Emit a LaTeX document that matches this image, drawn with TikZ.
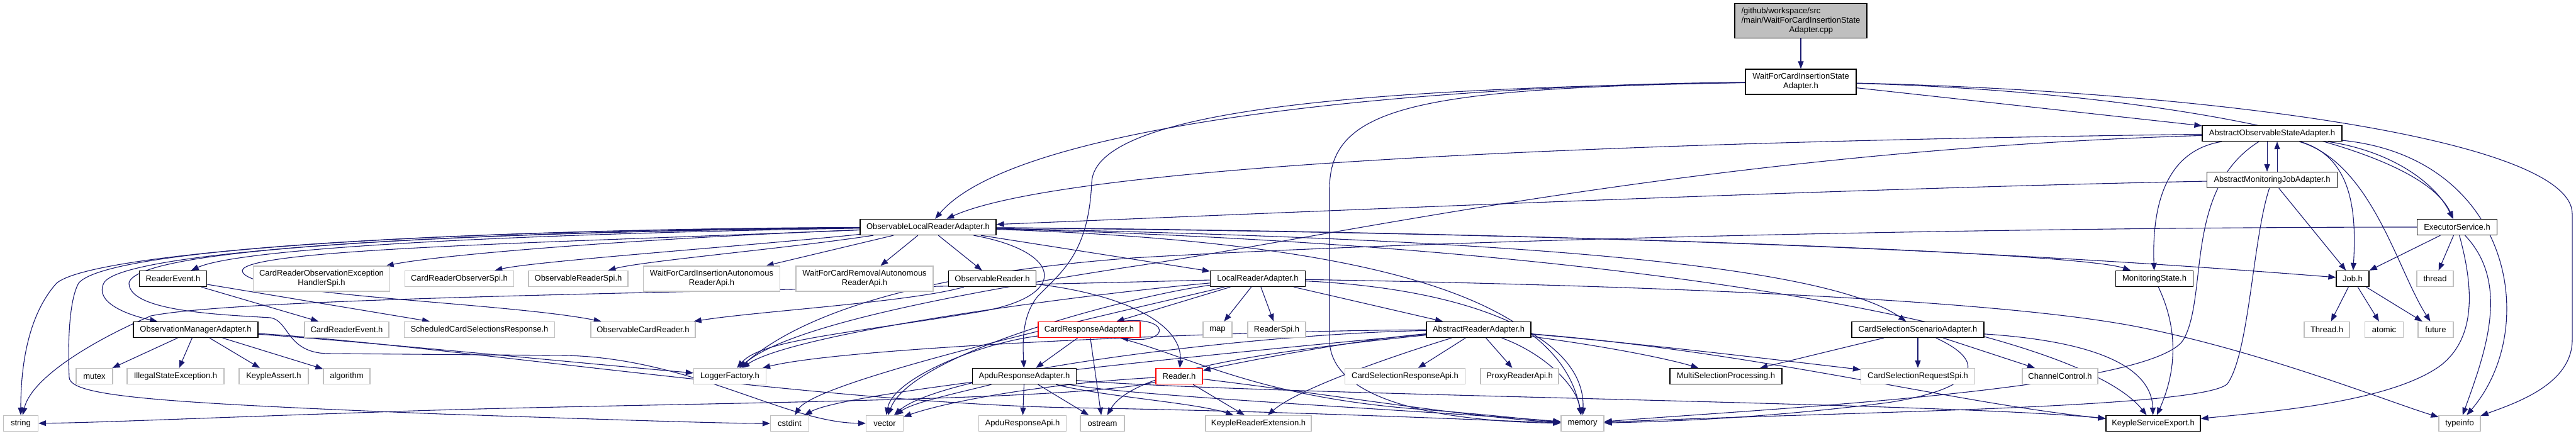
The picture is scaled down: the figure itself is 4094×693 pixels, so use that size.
\documentclass[tikz,border=0pt]{standalone}
\usepackage{fontspec}
\setmainfont{Liberation Sans}
\usetikzlibrary{arrows.meta,backgrounds}
\definecolor{Navy}{HTML}{191970}
\definecolor{Frame}{HTML}{BFBFBF}
\definecolor{Cut}{HTML}{FF0000}
\definecolor{Shade}{HTML}{BFBFBF}
\tikzset{
  header/.style={
    draw=black, line width=1.3pt, fill=white, inner xsep=4pt, inner ysep=2pt,
    minimum height=25, align=center, font=\fontsize{13}{15}\selectfont
  },
  syshdr/.style={header, draw=Frame},
  cuthdr/.style={header, draw=Cut},
  tall/.style={minimum height=40},
  srcfile/.style={header, fill=Shade, minimum height=55, align=left},
  dep/.style={-{Triangle[length=12pt,width=9pt]}, draw=Navy, line width=1.1pt}
}

\begin{document}
\begin{tikzpicture}[x=1pt,y=-1pt]
    \useasboundingbox (0,0) rectangle (4094,693);
    \node[srcfile,minimum width=210] (root) at (2862,33) {/github/workspace/src\\/main/WaitForCardInsertionState\\\hphantom{/main/WaitFo}Adapter.cpp};
    \node[header,tall,minimum width=176] (wfci) at (2862,130) {WaitForCardInsertionState\\Adapter.h};
    \node[header,minimum width=222] (aosa) at (3611,212) {AbstractObservableStateAdapter.h};
    \node[header,minimum width=207] (amja) at (3611,286) {AbstractMonitoringJobAdapter.h};
    \node[header,minimum width=216] (olra) at (1475,361) {ObservableLocalReaderAdapter.h};
    \node[header,minimum width=127] (exec) at (3905,361) {ExecutorService.h};
    \node[header,minimum width=107] (revt) at (275,443) {ReaderEvent.h};
    \node[syshdr,tall,minimum width=217] (croeh) at (511,443) {CardReaderObservationException\\HandlerSpi.h};
    \node[syshdr,minimum width=173] (cros) at (730,443) {CardReaderObserverSpi.h};
    \node[syshdr,minimum width=158] (ors) at (919,443) {ObservableReaderSpi.h};
    \node[syshdr,tall,minimum width=217] (wfcia) at (1131,443) {WaitForCardInsertionAutonomous\\ReaderApi.h};
    \node[syshdr,tall,minimum width=218] (wfcra) at (1374,443) {WaitForCardRemovalAutonomous\\ReaderApi.h};
    \node[header,minimum width=139] (orea) at (1577,443) {ObservableReader.h};
    \node[header,minimum width=151] (lra) at (1999,443) {LocalReaderAdapter.h};
    \node[header,minimum width=123] (mstate) at (3424,443) {MonitoringState.h};
    \node[header,minimum width=52] (job) at (3739,443) {Job.h};
    \node[syshdr,minimum width=58] (thrd) at (3870,443) {thread};
    \node[header,minimum width=198] (oma) at (311,524) {ObservationManagerAdapter.h};
    \node[syshdr,minimum width=134] (crevt) at (551,524) {CardReaderEvent.h};
    \node[syshdr,minimum width=239] (sccr) at (762,524) {ScheduledCardSelectionsResponse.h};
    \node[syshdr,minimum width=166] (ocr) at (1022,524) {ObservableCardReader.h};
    \node[cuthdr,minimum width=162] (cra) at (1731,524) {CardResponseAdapter.h};
    \node[syshdr,minimum width=46] (map) at (1935,524) {map};
    \node[syshdr,minimum width=92] (rspi) at (2029,524) {ReaderSpi.h};
    \node[header,minimum width=166] (ara) at (2350,524) {AbstractReaderAdapter.h};
    \node[header,minimum width=210] (cssa) at (3048,524) {CardSelectionScenarioAdapter.h};
    \node[syshdr,minimum width=72] (thrdh) at (3698,524) {Thread.h};
    \node[syshdr,minimum width=61] (atomic) at (3789,524) {atomic};
    \node[syshdr,minimum width=56] (future) at (3871,524) {future};
    \node[syshdr,minimum width=58] (mutex) at (150,598) {mutex};
    \node[syshdr,minimum width=154] (ise) at (279,598) {IllegalStateException.h};
    \node[syshdr,minimum width=110] (kassert) at (435,598) {KeypleAssert.h};
    \node[syshdr,minimum width=74] (algo) at (551,598) {algorithm};
    \node[syshdr,minimum width=115] (logf) at (1160,598) {LoggerFactory.h};
    \node[header,minimum width=165] (apra) at (1628,598) {ApduResponseAdapter.h};
    \node[cuthdr,minimum width=74] (reader) at (1874,598) {Reader.h};
    \node[syshdr,minimum width=191] (csra) at (2233,598) {CardSelectionResponseApi.h};
    \node[syshdr,minimum width=124] (pra) at (2415,598) {ProxyReaderApi.h};
    \node[header,minimum width=178] (msp) at (2743,598) {MultiSelectionProcessing.h};
    \node[syshdr,minimum width=181] (csrs) at (3048,598) {CardSelectionRequestSpi.h};
    \node[syshdr,minimum width=120] (chc) at (3274,598) {ChannelControl.h};
    \node[syshdr,minimum width=55] (string) at (33,673) {string};
    \node[syshdr,minimum width=61] (cstdint) at (1255,673) {cstdint};
    \node[syshdr,minimum width=59] (vector) at (1406,673) {vector};
    \node[syshdr,minimum width=139] (araapi) at (1625,673) {ApduResponseApi.h};
    \node[syshdr,minimum width=70] (ostream) at (1752,673) {ostream};
    \node[syshdr,minimum width=168] (kre) at (2000,673) {KeypleReaderExtension.h};
    \node[syshdr,minimum width=68] (memory) at (2515,673) {memory};
    \node[header,minimum width=150] (kse) at (3422,673) {KeypleServiceExport.h};
    \node[syshdr,minimum width=66] (typeinfo) at (3909,673) {typeinfo};
    \begin{scope}[on background layer]
    \fill[white] (0,0) rectangle (4094,693);
    \draw[dep] (root) -- (wfci);
    \draw[dep] (wfci) .. controls (2300,135) and (1620,190) .. (olra);
    \draw[dep] (wfci) .. controls (2200,140) and (1740,170) .. (1735,290) .. controls (1730,400) and (1690,430) .. (1650,470) .. controls (1625,500) and (1625,540) .. (apra);
    \draw[dep] (wfci) .. controls (2250,140) and (2113,170) .. (2113,300) -- (2113,540) .. controls (2113,640) and (2300,670) .. (memory);
    \draw[dep] (wfci) -- (aosa);
    \draw[dep] (wfci) .. controls (3400,145) and (3840,220) .. (exec);
    \draw[dep] (wfci) .. controls (3500,145) and (4088,220) .. (4088,340) -- (4088,540) .. controls (4088,610) and (4000,640) .. (typeinfo);
    \draw[dep] (aosa) .. controls (2600,225) and (1700,260) .. (olra);
    \draw[dep] (aosa) .. controls (2700,240) and (2100,380) .. (1790,425) .. controls (1500,470) and (1250,520) .. (logf);
    \draw[dep] ([xshift=-8]aosa.south) -- ([xshift=-8]amja.north);
    \draw[dep] ([xshift=8]amja.north) -- ([xshift=8]aosa.south);
    \draw[dep] (aosa) .. controls (3440,240) and (3420,330) .. (mstate);
    \draw[dep] (aosa) .. controls (3740,250) and (3745,340) .. (job);
    \draw[dep] (aosa) .. controls (3800,240) and (3870,290) .. (exec);
    \draw[dep] (aosa) .. controls (3770,260) and (3810,430) .. (future);
    \draw[dep] (aosa) .. controls (3990,250) and (4040,520) .. (typeinfo);
    \draw[dep] (aosa) .. controls (3470,300) and (3510,470) .. (3470,540) .. controls (3420,620) and (2800,650) .. (memory);
    \draw[dep] (amja) .. controls (2900,300) and (2000,340) .. (olra);
    \draw[dep] (amja) -- (job);
    \draw[dep] (amja) .. controls (3580,380) and (3575,560) .. (3540,610) .. controls (3500,650) and (2900,655) .. (memory);
    \draw[dep] (exec) -- (job);
    \draw[dep] (exec) -- (thrd);
    \draw[dep] (exec) .. controls (3990,450) and (3950,560) .. (typeinfo);
    \draw[dep] (exec) .. controls (3935,470) and (3930,540) .. (3880,580) .. controls (3800,640) and (3600,655) .. (kse);
    \draw[dep] (exec) .. controls (3200,361) and (2300,380) .. (1800,410) .. controls (1400,440) and (1250,520) .. (logf);
    \draw[dep] (olra) .. controls (700,364) and (150,400) .. (90,450) .. controls (45,500) and (33,580) .. (string);
    \draw[dep] (olra) .. controls (700,368) and (190,400) .. (165,450) .. controls (150,480) and (200,500) .. (oma);
    \draw[dep] (olra) .. controls (700,366) and (170,395) .. (125,450) .. controls (108,480) and (108,560) .. (110,600) .. controls (112,630) and (250,640) .. (700,658) .. controls (1000,668) and (1150,673) .. (cstdint);
    \draw[dep] (olra) .. controls (700,370) and (215,395) .. (205,450) .. controls (205,495) and (350,500) .. (430,505) .. controls (460,510) and (455,560) .. (520,562) -- (900,565) .. controls (1100,570) and (1250,672) .. (vector);
    \draw[dep] (olra) .. controls (800,372) and (380,395) .. (revt);
    \draw[dep] (olra) .. controls (1000,380) and (700,405) .. (croeh);
    \draw[dep] (olra) .. controls (1200,390) and (850,415) .. (cros);
    \draw[dep] (olra) .. controls (1250,395) and (1020,415) .. (ors);
    \draw[dep] (olra) -- (wfcia);
    \draw[dep] (olra) -- (wfcra);
    \draw[dep] (olra) -- (orea);
    \draw[dep] (olra) -- (lra);
    \draw[dep] (olra) .. controls (900,385) and (390,395) .. (385,430) .. controls (385,470) and (800,480) .. (ocr);
    \draw[dep] (olra) .. controls (1690,400) and (1700,470) .. (1560,495) .. controls (1350,530) and (1210,540) .. (logf);
    \draw[dep] (olra) .. controls (2400,368) and (3300,400) .. (mstate);
    \draw[dep] (olra) .. controls (2600,372) and (3200,400) .. (job);
    \draw[dep] (olra) .. controls (2400,380) and (2900,420) .. (cssa);
    \draw[dep] (olra) .. controls (2200,385) and (2480,480) .. (memory);
    \draw[dep] (olra) .. controls (2600,390) and (3300,520) .. (kse);
    \draw[dep] (revt) -- (crevt);
    \draw[dep] (revt) -- (sccr);
    \draw[dep] (oma) -- (mutex);
    \draw[dep] (oma) -- (ise);
    \draw[dep] (oma) -- (kassert);
    \draw[dep] (oma) -- (algo);
    \draw[dep] (oma) .. controls (600,545) and (900,575) .. (logf);
    \draw[dep] (oma) .. controls (700,548) and (1300,640) .. (1700,648) .. controls (2100,655) and (2350,668) .. (memory);
    \draw[dep] (orea) .. controls (1800,470) and (1880,520) .. (reader);
    \draw[dep] (orea) .. controls (1450,480) and (1200,495) .. (ocr);
    \draw[dep] (lra) -- (map);
    \draw[dep] (lra) -- (rspi);
    \draw[dep] (lra) -- (ara);
    \draw[dep] (lra) -- (cra);
    \draw[dep] (lra) .. controls (1300,462) and (400,470) .. (240,502) .. controls (150,540) and (50,600) .. (string);
    \draw[dep] (lra) .. controls (1800,470) and (1450,560) .. (vector);
    \draw[dep] (lra) .. controls (1700,470) and (1260,530) .. (logf);
    \draw[dep] (lra) .. controls (1850,480) and (1300,600) .. (cstdint);
    \draw[dep] (lra) .. controls (2350,460) and (2520,540) .. (memory);
    \draw[dep] (lra) .. controls (2700,455) and (3200,480) .. (3400,520) .. controls (3600,560) and (3800,640) .. (typeinfo);
    \draw[dep] (cra) -- (apra);
    \draw[dep] (cra) -- (ostream);
    \draw[dep] (cra) .. controls (1560,545) and (1420,600) .. (vector);
    \draw[dep] (cra) .. controls (1900,570) and (2000,630) .. (2250,650) .. controls (2380,660) and (2440,668) .. (memory);
    \draw[dep] ([xshift=50]cra.north) .. controls +(80,-10) and +(80,10) .. ([xshift=50]cra.south);
    \draw[dep] (apra) -- (araapi);
    \draw[dep] (apra) -- (ostream);
    \draw[dep] (apra) .. controls (1520,625) and (1450,640) .. (vector);
    \draw[dep] (apra) .. controls (1800,630) and (2300,655) .. (memory);
    \draw[dep] (apra) .. controls (2000,628) and (3100,640) .. (kse);
    \draw[dep] (apra) .. controls (1750,630) and (1900,640) .. (kre);
    \draw[dep] (reader) -- (kre);
    \draw[dep] (reader) .. controls (1700,640) and (1000,640) .. (600,655) .. controls (300,665) and (150,672) .. (string);
    \draw[dep] (reader) .. controls (1650,610) and (1500,640) .. (vector);
    \draw[dep] (reader) .. controls (2100,625) and (2350,665) .. (memory);
    \draw[dep] (ara) -- (csra);
    \draw[dep] (ara) -- (pra);
    \draw[dep] (ara) .. controls (2450,560) and (2505,610) .. (memory);
    \draw[dep] (ara) .. controls (2200,570) and (2060,620) .. (kre);
    \draw[dep] (ara) .. controls (2150,540) and (1950,580) .. (reader);
    \draw[dep] (ara) .. controls (2000,530) and (1500,590) .. (vector);
    \draw[dep] (ara) .. controls (2000,525) and (1350,550) .. (logf);
    \draw[dep] (ara) .. controls (1950,560) and (1350,620) .. (cstdint);
    \draw[dep] (ara) .. controls (2550,550) and (2650,570) .. (msp);
    \draw[dep] (ara) .. controls (2600,545) and (2850,575) .. (csrs);
    \draw[dep] (ara) .. controls (2000,560) and (1800,590) .. (ostream);
    \draw[dep] (ara) .. controls (2800,560) and (3100,640) .. (kse);
    \draw[dep] (cssa) -- (msp);
    \draw[dep] (cssa) -- (csrs);
    \draw[dep] (cssa) -- (chc);
    \draw[dep] (cssa) .. controls (3170,580) and (3130,620) .. (3000,640) .. controls (2800,665) and (2650,670) .. (memory);
    \draw[dep] (cssa) .. controls (3370,545) and (3420,600) .. (kse);
    \draw[dep] (mstate) .. controls (3470,540) and (3450,610) .. (kse);
    \draw[dep] (job) -- (thrdh);
    \draw[dep] (job) -- (atomic);
    \draw[dep] (job) -- (future);
    \end{scope}
\end{tikzpicture}
\end{document}
